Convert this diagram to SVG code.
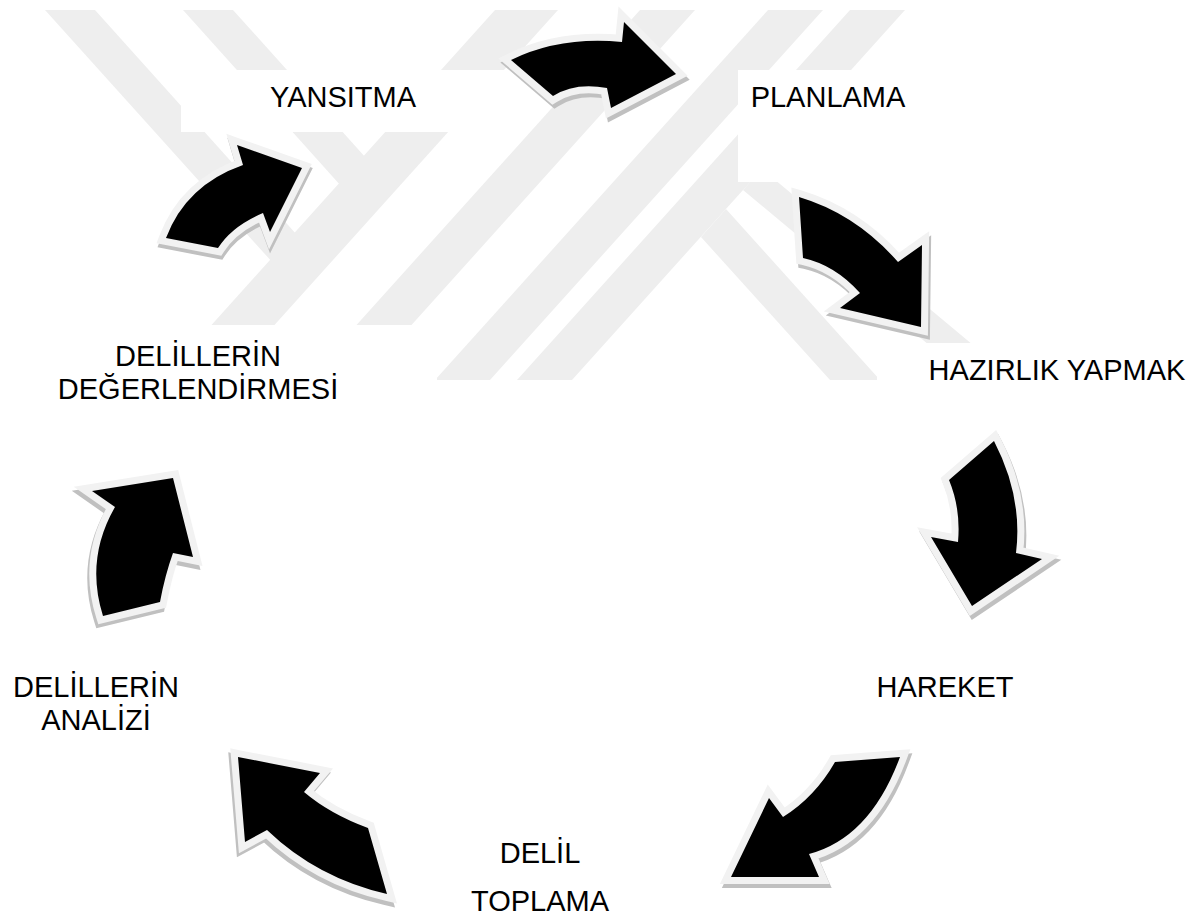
<svg xmlns="http://www.w3.org/2000/svg" width="1200" height="919" viewBox="0 0 1200 919">
<defs>
<style>
.wm{fill:#eeeeee}
.box{fill:#ffffff}
.lbl{font-family:"Liberation Sans",Arial,sans-serif;font-size:29px;fill:#000;text-anchor:middle}
.sh{fill:#c0c0c0;stroke:#c0c0c0;stroke-width:14;stroke-linejoin:miter;stroke-miterlimit:10}
.rim{fill:#f2f2f2;stroke:#f2f2f2;stroke-width:14;stroke-linejoin:miter;stroke-miterlimit:10}
.body{fill:#000}
</style>
<clipPath id="wmclip"><rect x="0" y="10" width="1100" height="370"/></clipPath>
<path id="a1" d="M511,60 Q560,36 622,42 L624,22 L676,74 L611,108 L607,88 Q575,82 553,96 Z"/>
<path id="a2" d="M799,197 Q856,214 898,262 L922,245 L921,327 L840,308 L860,293 Q835,265 803,258 Z"/>
<path id="a3" d="M994,441 Q1023,497 1016,553 L1042,559 L972,606 L931,537 L958,542 Q961,509 949,480 Z"/>
<path id="a4" d="M900,757 Q870,838 809,854 L819,877 L731,877 L769,798 L783,817 Q815,797 835,762 Z"/>
<path id="a5" d="M238,757 L320,773 L304,792 Q330,814 368,828 L387,894 Q317,878 267,830 L245,842 Z"/>
<path id="a6" d="M173,478 L193,557 L173,553 Q165,575 160,602 L103,616 Q85,559 115,507 L92,491 Z"/>
<path id="a7" d="M237,145 L302,168 L270,232 L263,213 Q232,226 218,248 L166,238 Q186,185 243,165 Z"/>
</defs>
<rect width="1200" height="919" fill="#ffffff"/>
<g id="watermark" clip-path="url(#wmclip)">
<polygon class="wm" points="45,10 95,10 297,235 273,263"/>
<polygon class="wm" points="183,10 233,10 366,158 341,186"/>
<polygon class="wm" points="495,10 558,10 225,380 162,380"/>
<polygon class="wm" points="640,10 695,10 362,380 307,380"/>
<polygon class="wm" points="768,10 823,10 490,380 435,380"/>
<polygon class="wm" points="850,10 905,10 572,380 517,380"/>
<polygon class="wm" points="726,209 880,380 830,380 701,237"/>
<polygon class="wm" points="762,169 1015,380 971,380 743,190"/>
</g>
<g id="label-boxes">
<rect class="box" x="181" y="70" width="338" height="62"/>
<rect class="box" x="738" y="70" width="300" height="112"/>
<rect class="box" x="877" y="343" width="323" height="70"/>
<rect class="box" x="30" y="325" width="407" height="90"/>
</g>
<g id="connectors">
<g id="arrow-yansitma-planlama"><use href="#a1" class="sh" transform="translate(2,4)"/><use href="#a1" class="rim"/><use href="#a1" class="body"/></g>
<g id="arrow-planlama-hazirlik"><use href="#a2" class="sh" transform="translate(2,4)"/><use href="#a2" class="rim"/><use href="#a2" class="body"/></g>
<g id="arrow-hazirlik-hareket"><use href="#a3" class="sh" transform="translate(2,4)"/><use href="#a3" class="rim"/><use href="#a3" class="body"/></g>
<g id="arrow-hareket-delil"><use href="#a4" class="sh" transform="translate(2,4)"/><use href="#a4" class="rim"/><use href="#a4" class="body"/></g>
<g id="arrow-delil-analiz"><use href="#a5" class="sh" transform="translate(-2,4)"/><use href="#a5" class="rim"/><use href="#a5" class="body"/></g>
<g id="arrow-analiz-degerlendirme"><use href="#a6" class="sh" transform="translate(-2,4)"/><use href="#a6" class="rim"/><use href="#a6" class="body"/></g>
<g id="arrow-degerlendirme-yansitma"><use href="#a7" class="sh" transform="translate(1,4)"/><use href="#a7" class="rim"/><use href="#a7" class="body"/></g>
</g>
<g id="node-yansitma"><text class="lbl" x="343" y="107">YANSITMA</text></g>
<g id="node-planlama"><text class="lbl" x="828" y="107">PLANLAMA</text></g>
<g id="node-hazirlik"><text class="lbl" x="1057" y="380">HAZIRLIK YAPMAK</text></g>
<g id="node-hareket"><text class="lbl" x="945" y="697">HAREKET</text></g>
<g id="node-delil-toplama"><text class="lbl" x="540" y="863">DELİL</text><text class="lbl" x="540" y="911">TOPLAMA</text></g>
<g id="node-analiz"><text class="lbl" x="96" y="697">DELİLLERİN</text><text class="lbl" x="96" y="730">ANALİZİ</text></g>
<g id="node-degerlendirme"><text class="lbl" x="198" y="366">DELİLLERİN</text><text class="lbl" x="198" y="399">DEĞERLENDİRMESİ</text></g>
</svg>
